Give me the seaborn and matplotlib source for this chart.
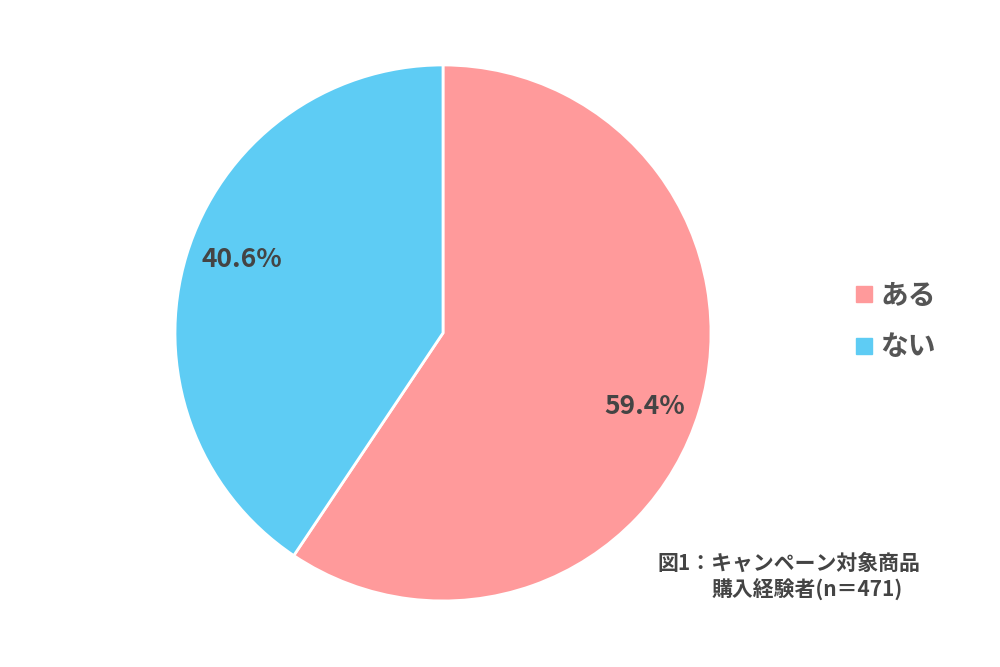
import numpy as np
import matplotlib
matplotlib.use("Agg")
import matplotlib.pyplot as plt
from matplotlib.lines import Line2D
import seaborn as sns

labels = ["ある", "ない"]
values = [59.4, 40.6]
colors = ["#FF9A9B", "#5ECCF4"]
caption_1 = "図1：キャンペーン対象商品"
caption_2 = "購入経験者(n＝471)"

sns.set_theme(style="white")
plt.rcParams["font.family"] = ["Noto Sans CJK JP", "DejaVu Sans"]

fig = plt.figure(figsize=(10, 6.67), dpi=100)
ax = fig.add_axes([0.175, 0.099, 0.536, 0.8036])
palette = sns.color_palette(colors)

wedges, texts, autotexts = ax.pie(
    values, colors=palette, startangle=90, counterclock=False,
    autopct="%.1f%%", pctdistance=0.8, radius=1,
    wedgeprops=dict(edgecolor="white", linewidth=2),
    textprops=dict(fontsize=19, fontweight="bold", color="#444444"))
# labels sit a little clockwise of the wedge middle in the original
for w, t in zip(wedges, autotexts):
    ang = np.deg2rad((w.theta1 + w.theta2) / 2 - 3)
    t.set_position((0.8 * np.cos(ang), 0.8 * np.sin(ang)))
ax.set_xlim(-1, 1); ax.set_ylim(-1, 1)
ax.set_aspect("equal")

handles = [Line2D([0], [0], marker="s", linestyle="", markersize=11,
                  markerfacecolor=c, markeredgecolor=c) for c in colors]
fig.legend(handles, labels, loc="center left", bbox_to_anchor=(0.822, 0.518),
           frameon=False, labelspacing=0.85, handletextpad=0.0, handlelength=1.2,
           labelcolor="#555555", prop=dict(size=20, weight="bold"))

fig.text(0.657, 0.155, caption_1, fontsize=15, fontweight="bold",
         color="#444444", va="center", ha="left")
fig.text(0.712, 0.115, caption_2, fontsize=15, fontweight="bold",
         color="#444444", va="center", ha="left")

fig.savefig("out.png", dpi=100, facecolor="white")
plt.close()
